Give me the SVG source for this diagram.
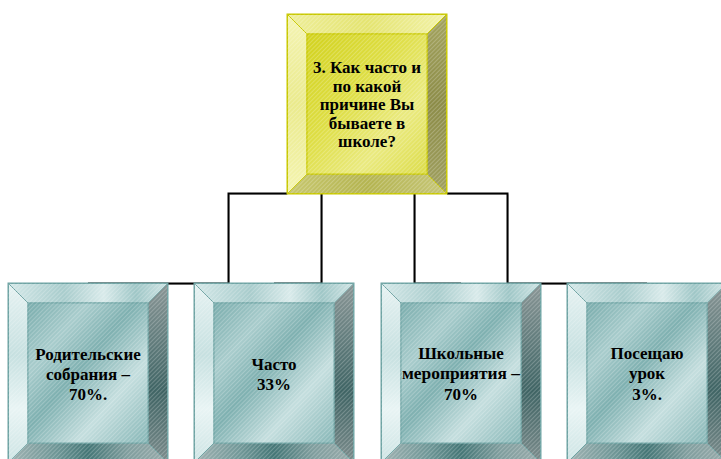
<svg xmlns="http://www.w3.org/2000/svg" width="721" height="459" viewBox="0 0 721 459">
<style>
.t{font-family:"Liberation Serif","DejaVu Serif","Times New Roman",serif;font-weight:bold;font-size:17px;fill:#000;text-anchor:middle}
.cn{fill:none;stroke:#000;stroke-width:2}
.cs{fill:none;stroke:#d0d0d0;stroke-width:1}
.g polygon,.g rect{stroke:#6fa3a3;stroke-width:1}
.g .tp{fill:url(#gTop)}
.g .lf{fill:url(#gLeft)}
.g .rt{fill:url(#gRight)}
.g .bt{fill:url(#gBot)}
.g .fc{fill:url(#gFace)}
.y polygon,.y rect{stroke:#c8c800;stroke-width:1}
.y .tp{fill:url(#yTop)}
.y .lf{fill:url(#yLeft)}
.y .rt{fill:url(#yRight)}
.y .bt{fill:url(#yBot)}
.y .fc{fill:url(#yFace)}
.st{fill:url(#stripes);stroke:none}
</style>
<defs>
<pattern id="stripes" width="3" height="3" patternUnits="userSpaceOnUse" patternTransform="rotate(45)">
<rect x="0" y="0" width="1" height="3" fill="#ffffff" fill-opacity="0.22"/>
</pattern>
<linearGradient id="gTop" x1="0" y1="0" x2="1" y2="0">
<stop offset="0" stop-color="#d4e8e8"/><stop offset="0.35" stop-color="#a8cccc"/><stop offset="0.6" stop-color="#d8eaea"/><stop offset="0.8" stop-color="#9ec6c6"/><stop offset="1" stop-color="#cfe4e4"/>
</linearGradient>
<linearGradient id="gLeft" x1="0" y1="0" x2="0" y2="1">
<stop offset="0" stop-color="#e6f2f2"/><stop offset="0.4" stop-color="#c6e0e0"/><stop offset="0.7" stop-color="#e8f4f4"/><stop offset="1" stop-color="#cde4e4"/>
</linearGradient>
<linearGradient id="gRight" x1="0" y1="0" x2="0" y2="1">
<stop offset="0" stop-color="#8a9696"/><stop offset="0.35" stop-color="#5e7a7a"/><stop offset="0.6" stop-color="#3f6464"/><stop offset="1" stop-color="#7c8c8c"/>
</linearGradient>
<linearGradient id="gBot" x1="0" y1="0" x2="1" y2="0">
<stop offset="0" stop-color="#a0b2b2"/><stop offset="0.3" stop-color="#6e9696"/><stop offset="0.5" stop-color="#447676"/><stop offset="0.75" stop-color="#809e9e"/><stop offset="1" stop-color="#98aaaa"/>
</linearGradient>
<linearGradient id="gFace" x1="0" y1="0" x2="1" y2="1">
<stop offset="0" stop-color="#79acac"/><stop offset="0.25" stop-color="#a8cccc"/><stop offset="0.45" stop-color="#7eb0b0"/><stop offset="0.7" stop-color="#c4dede"/><stop offset="1" stop-color="#86b6b6"/>
</linearGradient>
<linearGradient id="yTop" x1="0" y1="0" x2="1" y2="0">
<stop offset="0" stop-color="#eeee9a"/><stop offset="0.5" stop-color="#e4e470"/><stop offset="1" stop-color="#f2f2a8"/>
</linearGradient>
<linearGradient id="yLeft" x1="0" y1="0" x2="0" y2="1">
<stop offset="0" stop-color="#f4f4b4"/><stop offset="0.5" stop-color="#eaea8c"/><stop offset="1" stop-color="#f4f4b0"/>
</linearGradient>
<linearGradient id="yRight" x1="0" y1="0" x2="0" y2="1">
<stop offset="0" stop-color="#a4a460"/><stop offset="0.5" stop-color="#8c8c48"/><stop offset="1" stop-color="#a0a060"/>
</linearGradient>
<linearGradient id="yBot" x1="0" y1="0" x2="1" y2="0">
<stop offset="0" stop-color="#c8c870"/><stop offset="0.5" stop-color="#b4b450"/><stop offset="1" stop-color="#c6c678"/>
</linearGradient>
<linearGradient id="yFace" x1="0" y1="0" x2="1" y2="1">
<stop offset="0" stop-color="#d2d21e"/><stop offset="0.4" stop-color="#dede44"/><stop offset="0.7" stop-color="#eaea80"/><stop offset="1" stop-color="#dcdc48"/>
</linearGradient>
</defs>

<g id="connectors">
<polyline class="cs" points="288,194.5 229.5,194.5 229.5,283"/>
<polyline class="cs" points="322.5,194 322.5,283"/>
<polyline class="cs" points="415.5,194 415.5,283"/>
<polyline class="cs" points="447,194.5 508.5,194.5 508.5,283"/>
<polyline class="cs" points="168,284.5 194,284.5"/>
<polyline class="cs" points="541,284.5 567,284.5"/>
<polyline class="cn" points="287,193.5 228.5,193.5 228.5,283.5 88,283.5"/>
<polyline class="cn" points="321.5,194 321.5,283.5 274,283.5"/>
<polyline class="cn" points="414.5,194 414.5,283.5 461,283.5"/>
<polyline class="cn" points="447,193.5 507.5,193.5 507.5,283.5 647,283.5"/>
</g>

<g id="node-top" class="y">
<polygon class="tp" points="287.5,14.5 446.5,14.5 427,34 307,34"/>
<polygon class="lf" points="287.5,14.5 307,34 307,174 287.5,193.5"/>
<polygon class="rt" points="446.5,14.5 446.5,193.5 427,174 427,34"/>
<polygon class="bt" points="287.5,193.5 307,174 427,174 446.5,193.5"/>
<rect class="fc" x="307" y="34" width="120" height="140"/>
<rect class="st" x="287" y="14" width="160" height="180"/>
<text class="t" x="367" y="73">3. Как часто и</text>
<text class="t" x="367" y="91.5">по какой</text>
<text class="t" x="367" y="110">причине Вы</text>
<text class="t" x="367" y="128.5">бываете в</text>
<text class="t" x="367" y="147">школе?</text>
</g>

<g id="node-1" class="g">
<polygon class="tp" points="8.5,283.5 167.5,283.5 148,303 28,303"/>
<polygon class="lf" points="8.5,283.5 28,303 28,443 8.5,462.5"/>
<polygon class="rt" points="167.5,283.5 167.5,462.5 148,443 148,303"/>
<polygon class="bt" points="8.5,462.5 28,443 148,443 167.5,462.5"/>
<rect class="fc" x="28" y="303" width="120" height="140"/>
<rect class="st" x="8" y="283" width="160" height="180"/>
<text class="t" x="88" y="360">Родительские</text>
<text class="t" x="88" y="380">собрания –</text>
<text class="t" x="88" y="400">70%.</text>
</g>

<g id="node-2" class="g">
<polygon class="tp" points="194.5,283.5 353.5,283.5 334,303 214,303"/>
<polygon class="lf" points="194.5,283.5 214,303 214,443 194.5,462.5"/>
<polygon class="rt" points="353.5,283.5 353.5,462.5 334,443 334,303"/>
<polygon class="bt" points="194.5,462.5 214,443 334,443 353.5,462.5"/>
<rect class="fc" x="214" y="303" width="120" height="140"/>
<rect class="st" x="194" y="283" width="160" height="180"/>
<text class="t" x="274" y="370">Часто</text>
<text class="t" x="274" y="390">33%</text>
</g>

<g id="node-3" class="g">
<polygon class="tp" points="381.5,283.5 540.5,283.5 521,303 401,303"/>
<polygon class="lf" points="381.5,283.5 401,303 401,443 381.5,462.5"/>
<polygon class="rt" points="540.5,283.5 540.5,462.5 521,443 521,303"/>
<polygon class="bt" points="381.5,462.5 401,443 521,443 540.5,462.5"/>
<rect class="fc" x="401" y="303" width="120" height="140"/>
<rect class="st" x="381" y="283" width="160" height="180"/>
<text class="t" x="461" y="359">Школьные</text>
<text class="t" x="461" y="379" textLength="118" lengthAdjust="spacingAndGlyphs">мероприятия –</text>
<text class="t" x="461" y="400">70%</text>
</g>

<g id="node-4" class="g">
<polygon class="tp" points="567.5,283.5 726.5,283.5 707,303 587,303"/>
<polygon class="lf" points="567.5,283.5 587,303 587,443 567.5,462.5"/>
<polygon class="rt" points="726.5,283.5 726.5,462.5 707,443 707,303"/>
<polygon class="bt" points="567.5,462.5 587,443 707,443 726.5,462.5"/>
<rect class="fc" x="587" y="303" width="120" height="140"/>
<rect class="st" x="567" y="283" width="160" height="180"/>
<text class="t" x="647" y="359">Посещаю</text>
<text class="t" x="647" y="379">урок</text>
<text class="t" x="647" y="400">3%.</text>
</g>
</svg>
